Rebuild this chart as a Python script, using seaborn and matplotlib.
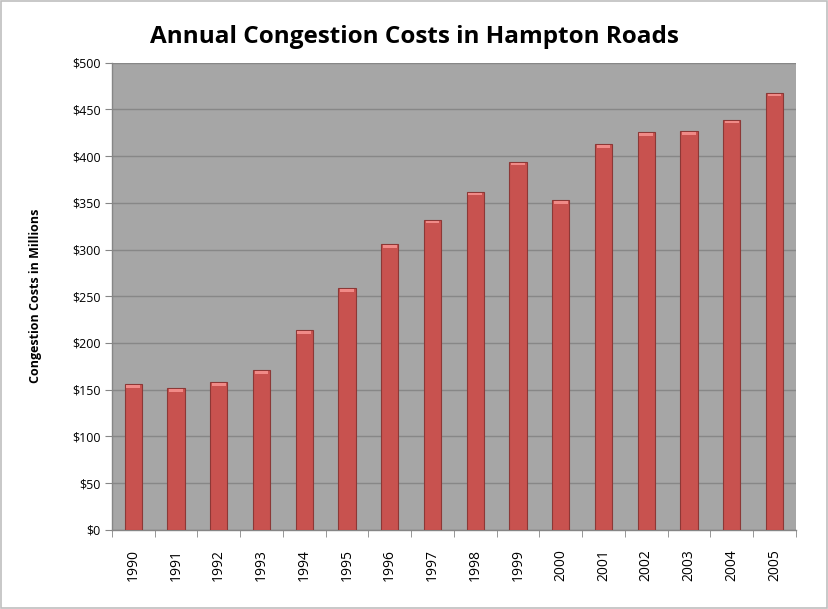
import matplotlib
matplotlib.use("Agg")
import matplotlib.pyplot as plt
import seaborn as sns
import pandas as pd
from matplotlib.patches import Rectangle
from matplotlib.ticker import FuncFormatter, MultipleLocator

years = ['1990', '1991', '1992', '1993', '1994', '1995', '1996', '1997',
         '1998', '1999', '2000', '2001', '2002', '2003', '2004', '2005']
costs = [156, 152, 158, 171, 214, 259, 306, 332,
         362, 394, 353, 413, 426, 427, 439, 468]

df = pd.DataFrame({'year': years, 'cost': costs})

sns.set_style('white')
plt.rcParams['font.family'] = ['Open Sans', 'DejaVu Sans']
plt.rcParams['text.color'] = 'black'
plt.rcParams['xtick.labelcolor'] = 'black'
plt.rcParams['ytick.labelcolor'] = 'black'
plt.rcParams['axes.labelcolor'] = 'black'

fig = plt.figure(figsize=(8.29, 6.09), dpi=100)
ax = fig.add_axes([0.135, 0.130, 0.825, 0.767])
ax.set_facecolor('#A6A6A6')

sns.barplot(data=df, x='year', y='cost', color='#C8524F', width=0.4,
            saturation=1, edgecolor='#8C3836', linewidth=0.8, ax=ax, zorder=3)

# light cap on top of each bar
for p in ax.patches:
    x0, w, h = p.get_x(), p.get_width(), p.get_height()
    ax.add_patch(Rectangle((x0 + w * 0.1, h - 4), w * 0.8, 3,
                           facecolor='#F08A87', edgecolor='none', zorder=4))

ax.set_ylim(0, 500)
ax.set_xlim(-0.5, len(years) - 0.5)
ax.yaxis.set_major_locator(MultipleLocator(50))
ax.yaxis.set_major_formatter(FuncFormatter(lambda v, _: f'${v:.0f}'))
ax.grid(axis='y', color='#878787', linewidth=1, zorder=0)
ax.set_axisbelow(True)

ax.tick_params(axis='y', labelsize=9, length=5, color='#868686', left=True, pad=3)
ax.tick_params(axis='x', labelsize=10, rotation=90, length=0, pad=14)
# tick marks between categories like the original
ax.set_xticks([i - 0.5 for i in range(len(years) + 1)], minor=True)
ax.tick_params(axis='x', which='minor', length=5, color='#868686', bottom=True)

for s in ['top', 'right']:
    ax.spines[s].set_visible(False)
for s in ['left', 'bottom']:
    ax.spines[s].set_color('#868686')
    ax.spines[s].set_linewidth(1)

ax.set_xlabel('')
ax.set_ylabel('Congestion Costs in Millions', fontsize=9, fontweight='bold', labelpad=22)

fig.text(0.5, 0.94, 'Annual Congestion Costs in Hampton Roads',
         ha='center', va='center', fontsize=17.5, fontweight='bold')

fig.patches.append(Rectangle((0.001, 0.001), 0.997, 0.997, transform=fig.transFigure,
                             fill=False, edgecolor='#BFBFBF', linewidth=1.2))

fig.savefig('out.png', dpi=100, facecolor='white')
